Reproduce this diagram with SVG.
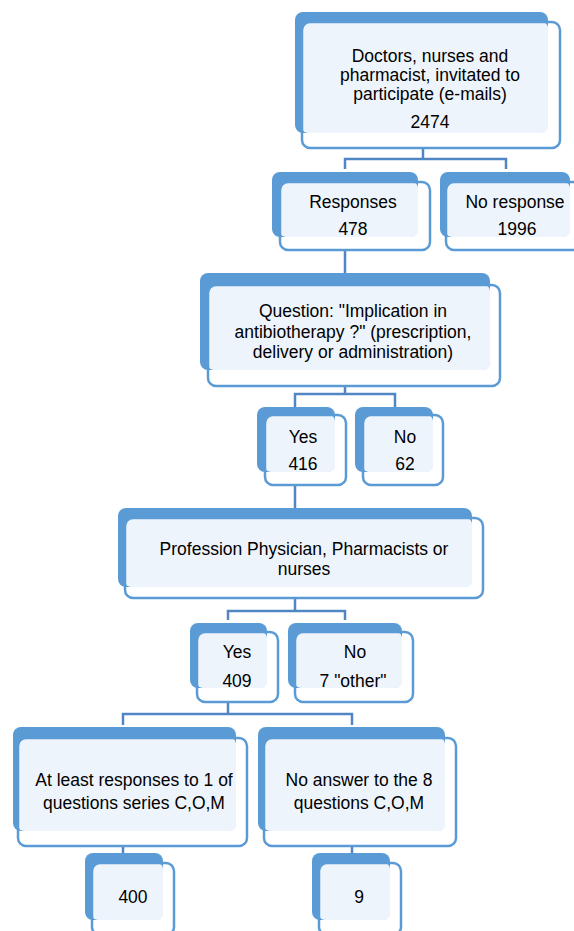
<svg xmlns="http://www.w3.org/2000/svg" width="574" height="931" viewBox="0 0 574 931">
<style>
.back{fill:#5B9BD5}
.inner{fill:#EEF4FB}
.front{fill:none;stroke:#5B9BD5;stroke-width:2.5}
.conn{fill:none;stroke:#4F86C3;stroke-width:2.5}
text{font-family:"Liberation Sans",Arial,sans-serif;font-size:17.5px;fill:#000;text-anchor:middle}
</style>
<rect width="574" height="931" fill="#fff"/>
<g id="connectors">
<path class="conn" d="M423,148V159M345,169V159H506V169"/>
<path class="conn" d="M345,250V273"/>
<path class="conn" d="M345,386V394M295,407V394H395V407"/>
<path class="conn" d="M295,485V508"/>
<path class="conn" d="M295,598V611M228,620V611H345V620"/>
<path class="conn" d="M228,702V714M123,725V714H352V725"/>
<path class="conn" d="M123,846V853M352,846V853"/>
</g>
<g id="n1">
<rect class="back" x="295" y="12" width="253" height="121" rx="8"/>
<rect class="inner" x="302" y="22" width="246" height="111" rx="6"/>
<rect class="front" x="302" y="22" width="258" height="126" rx="8"/>
<text x="430" y="62">Doctors, nurses and</text>
<text x="430" y="81">pharmacist, invitated to</text>
<text x="430" y="100">participate (e-mails)</text>
<text x="430" y="128">2474</text>
</g>
<g id="n2">
<rect class="back" x="272" y="172" width="146" height="65" rx="8"/>
<rect class="inner" x="280" y="182" width="138" height="55" rx="6"/>
<rect class="front" x="280" y="182" width="150" height="68" rx="8"/>
<text x="353" y="208">Responses</text>
<text x="353" y="235">478</text>
</g>
<g id="n3">
<rect class="back" x="440" y="172" width="130" height="65" rx="8"/>
<rect class="inner" x="446" y="182" width="124" height="55" rx="6"/>
<rect class="front" x="446" y="182" width="140" height="68" rx="8"/>
<text x="515" y="208">No response</text>
<text x="517" y="235">1996</text>
</g>
<g id="n4">
<rect class="back" x="200" y="273" width="290" height="97" rx="8"/>
<rect class="inner" x="208" y="285" width="282" height="85" rx="6"/>
<rect class="front" x="208" y="285" width="292" height="101" rx="8"/>
<text x="353" y="317">Question: "Implication in</text>
<text x="353" y="338">antibiotherapy ?" (prescription,</text>
<text x="353" y="358">delivery or administration)</text>
</g>
<g id="n5">
<rect class="back" x="257" y="407" width="78" height="65" rx="8"/>
<rect class="inner" x="265" y="415" width="70" height="57" rx="6"/>
<rect class="front" x="265" y="415" width="81" height="70" rx="8"/>
<text x="303" y="443">Yes</text>
<text x="303" y="470">416</text>
</g>
<g id="n6">
<rect class="back" x="355" y="407" width="78" height="65" rx="8"/>
<rect class="inner" x="363" y="415" width="70" height="57" rx="6"/>
<rect class="front" x="363" y="415" width="80" height="70" rx="8"/>
<text x="405" y="443">No</text>
<text x="405" y="470">62</text>
</g>
<g id="n7">
<rect class="back" x="118" y="508" width="354" height="79" rx="8"/>
<rect class="inner" x="125" y="518" width="347" height="69" rx="6"/>
<rect class="front" x="125" y="518" width="358" height="80" rx="8"/>
<text x="304" y="555">Profession Physician, Pharmacists or</text>
<text x="304" y="575">nurses</text>
</g>
<g id="n8">
<rect class="back" x="190" y="623" width="77" height="65" rx="8"/>
<rect class="inner" x="197" y="632" width="70" height="56" rx="6"/>
<rect class="front" x="197" y="632" width="81" height="70" rx="8"/>
<text x="237" y="658">Yes</text>
<text x="237" y="687">409</text>
</g>
<g id="n9">
<rect class="back" x="288" y="623" width="114" height="65" rx="8"/>
<rect class="inner" x="295" y="632" width="107" height="56" rx="6"/>
<rect class="front" x="295" y="632" width="118" height="70" rx="8"/>
<text x="355" y="658">No</text>
<text x="353" y="687">7 "other"</text>
</g>
<g id="n10">
<rect class="back" x="13" y="727" width="223" height="104" rx="8"/>
<rect class="inner" x="18" y="738" width="218" height="93" rx="6"/>
<rect class="front" x="18" y="738" width="229" height="108" rx="8"/>
<text x="134" y="786">At least responses to 1 of</text>
<text x="134" y="809">questions series C,O,M</text>
</g>
<g id="n11">
<rect class="back" x="258" y="727" width="187" height="104" rx="8"/>
<rect class="inner" x="264" y="738" width="181" height="93" rx="6"/>
<rect class="front" x="264" y="738" width="192" height="108" rx="8"/>
<text x="359" y="786">No answer to the 8</text>
<text x="359" y="809">questions C,O,M</text>
</g>
<g id="n12">
<rect class="back" x="85" y="853" width="78" height="67" rx="8"/>
<rect class="inner" x="92" y="863" width="71" height="57" rx="6"/>
<rect class="front" x="92" y="863" width="82" height="72" rx="8"/>
<text x="133" y="903">400</text>
</g>
<g id="n13">
<rect class="back" x="312" y="853" width="78" height="67" rx="8"/>
<rect class="inner" x="319" y="863" width="71" height="57" rx="6"/>
<rect class="front" x="319" y="863" width="82" height="72" rx="8"/>
<text x="359" y="903">9</text>
</g>
</svg>
